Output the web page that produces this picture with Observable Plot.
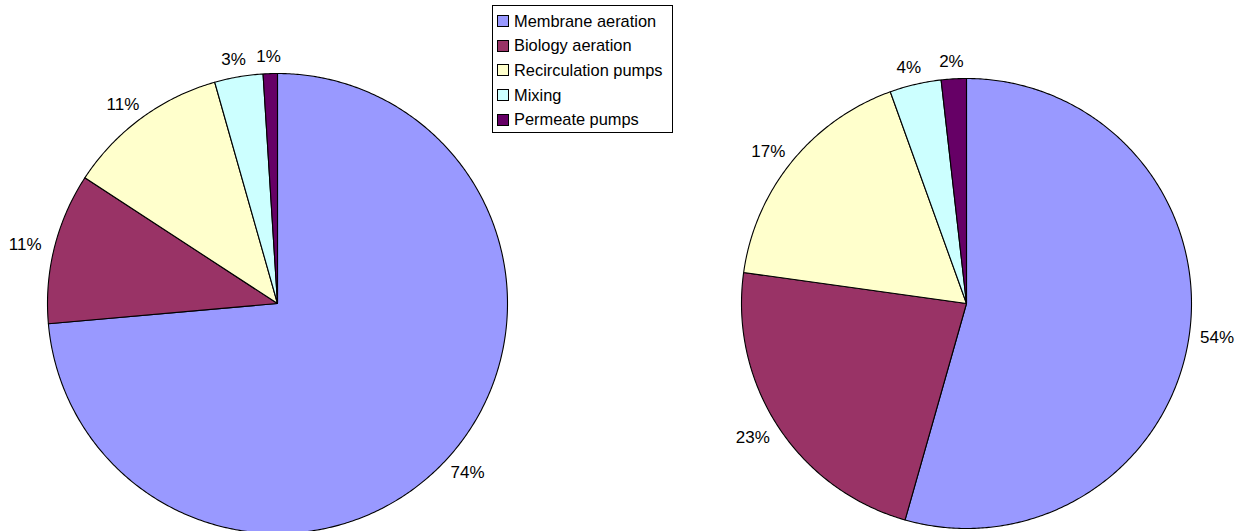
<!DOCTYPE html>
<html><head><meta charset="utf-8">
<script src="https://cdn.jsdelivr.net/npm/d3@7"></script>
<script src="https://cdn.jsdelivr.net/npm/@observablehq/plot@0.6"></script>
<style>
html,body{margin:0;padding:0;background:#fff;}
#wrap{position:relative;width:1236px;height:531px;}
#legend{position:absolute;left:492px;top:5px;width:181px;height:128px;border:1px solid #000;background:#fff;
 font-family:"Liberation Sans",Arial,sans-serif;font-size:16.4px;color:#000;box-sizing:border-box;padding-top:3px;}
.item{display:flex;align-items:center;height:24.6px;padding-left:4px;white-space:nowrap;}
.sw{width:10px;height:10px;border:1px solid #000;margin-right:5px;flex:none;}
</style>
</head><body>
<div id="wrap"><div id="chart"></div><div id="legend"></div></div>
<script>
const categories = ["Membrane aeration","Biology aeration","Recirculation pumps","Mixing","Permeate pumps"];
const colors = ["#9999FF","#993366","#FFFFCC","#CCFFFF","#660066"];
const leftValues = [73.6, 10.6, 11.4, 3.4, 1.0];
const rightValues = [54.4, 22.8, 17.3, 3.7, 1.8];
const leftLabels = ["74%","11%","11%","3%","1%"];
const rightLabels = ["54%","23%","17%","4%","2%"];

const W = 1236, H = 531;
const pies = [
  {name:"left", values:leftValues, labels:leftLabels, cx:277, cy:303, r:230},
  {name:"right", values:rightValues, labels:rightLabels, cx:966, cy:303, r:225}
];
const fontSize = 17;

const slicePts = [];
const labelPts = [];
for (const p of pies) {
  const total = d3.sum(p.values);
  let acc = 0;
  p.values.forEach((v, i) => {
    const a0 = acc / total * 2 * Math.PI;
    acc += v;
    const a1 = acc / total * 2 * Math.PI;
    const key = p.name + i;
    slicePts.push({key, cat: categories[i], x: p.cx, y: p.cy});
    const n = Math.max(2, Math.ceil((a1 - a0) / (Math.PI / 360)));
    for (let k = 0; k <= n; k++) {
      const a = a0 + (a1 - a0) * k / n;
      slicePts.push({key, cat: categories[i], x: p.cx + p.r * Math.sin(a), y: p.cy - p.r * Math.cos(a)});
    }
    slicePts.push({key, cat: categories[i], x: p.cx, y: p.cy});
    const mid = (a0 + a1) / 2;
    const ux = Math.sin(mid), uy = -Math.cos(mid);
    const d = p.r + 12;
    const txt = p.labels[i];
    const w = fontSize * (0.556 * (txt.length - 1) + 0.889);
    const h = fontSize * 0.75;
    labelPts.push({text: txt, x: p.cx + ux * d + ux * w / 2 - 1, y: p.cy + uy * d + uy * h / 2 + 1});
  });
}

const chart = Plot.plot({
  width: W, height: H,
  margin: 0,
  x: {domain: [0, W], range: [0, W], axis: null},
  y: {domain: [0, H], range: [0, H], axis: null},
  color: {domain: categories, range: colors},
  style: {fontFamily: '"Liberation Sans", Arial, sans-serif', background: "#fff"},
  marks: [
    Plot.line(slicePts, {x: "x", y: "y", z: "key", fill: "cat", stroke: "#000", strokeWidth: 1.1, strokeLinejoin: "round"}),
    Plot.text(labelPts, {x: "x", y: "y", text: "text", fontSize: fontSize, fill: "#000", textAnchor: "middle", lineAnchor: "middle"})
  ]
});
document.getElementById("chart").appendChild(chart);

const leg = document.getElementById("legend");
categories.forEach((c, i) => {
  const row = document.createElement("div");
  row.className = "item";
  const sw = document.createElement("span");
  sw.className = "sw";
  sw.style.background = colors[i];
  const t = document.createElement("span");
  t.textContent = c;
  row.appendChild(sw); row.appendChild(t);
  leg.appendChild(row);
});
</script>
</body></html>
